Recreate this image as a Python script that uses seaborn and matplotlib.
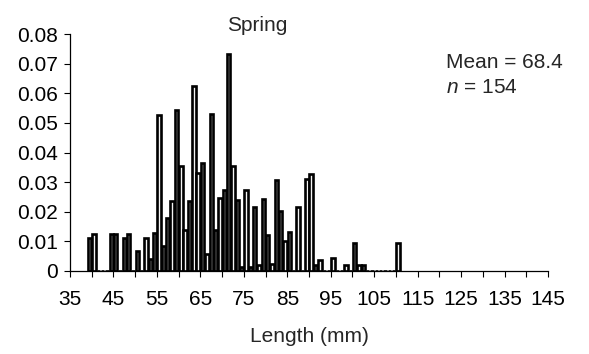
import numpy as np
import pandas as pd
import matplotlib
matplotlib.use("Agg")
import matplotlib.pyplot as plt
import seaborn as sns

# Data (relative frequency per 1-mm length class)
lengths = [39, 40, 44, 45, 47, 48, 50, 52, 53, 54, 55, 56, 57, 58, 59, 60, 61, 62,
           63, 64, 65, 66, 67, 68, 69, 70, 71, 72, 73, 74, 75, 76, 77, 78, 79, 80,
           81, 82, 83, 84, 85, 87, 89, 90, 91, 92, 95, 98, 100, 101, 102, 110]
freqs = [0.011, 0.0126, 0.0126, 0.0126, 0.011, 0.0126, 0.0066, 0.011, 0.004, 0.0128,
         0.0525, 0.0083, 0.018, 0.0235, 0.0543, 0.0355, 0.0137, 0.0235, 0.0624, 0.0332,
         0.0366, 0.0056, 0.053, 0.0137, 0.0248, 0.0273, 0.0731, 0.0355, 0.0241, 0.0014,
         0.0275, 0.0014, 0.0216, 0.0019, 0.0242, 0.0123, 0.0025, 0.0306, 0.0202, 0.0100,
         0.013, 0.0216, 0.031, 0.0329, 0.0019, 0.0038, 0.0044, 0.0019, 0.0095, 0.0019,
         0.0019, 0.0095]

x_min, x_max = 35, 145
xtick_major = list(range(35, 146, 5))
xtick_labels = [str(v) if (v - 35) % 10 == 0 else "" for v in xtick_major]
ytick_vals = [0, 0.01, 0.02, 0.03, 0.04, 0.05, 0.06, 0.07, 0.08]
ytick_labels = ["0", "0.01", "0.02", "0.03", "0.04", "0.05", "0.06", "0.07", "0.08"]

title = "Spring"
xlabel = "Length (mm)"
mean_text = "Mean = 68.4"
n_text = "$\\it{n}$ = 154"

df = pd.DataFrame({"length": lengths, "freq": freqs})

sns.set_style("white")
plt.rcParams["font.family"] = ["Liberation Sans", "DejaVu Sans"]
plt.rcParams["mathtext.fontset"] = "custom"
plt.rcParams["mathtext.it"] = "Liberation Sans:italic"
plt.rcParams["mathtext.rm"] = "Liberation Sans"

fig = plt.figure(figsize=(5.89, 3.54), dpi=100)
ax = fig.add_axes([70 / 589, 1 - 271 / 354, 478 / 589, 237 / 354])

sns.histplot(data=df, x="length", weights="freq", binwidth=1,
             binrange=(min(lengths), max(lengths) + 1),
             shrink=0.78, color="#f4f4f4", edgecolor="black", linewidth=1.9,
             alpha=1, ax=ax)

ax.set_xlim(x_min, x_max)
ax.set_ylim(0, 0.08)
ax.set_xticks(xtick_major)
ax.set_xticklabels(xtick_labels)
ax.set_yticks(ytick_vals)
ax.set_yticklabels(ytick_labels)
ax.tick_params(axis="both", direction="out", length=4, width=0.8, labelsize=15,
               colors="black", pad=5, bottom=True, left=True)
ax.tick_params(axis="x", pad=10)

for side in ["top", "right"]:
    ax.spines[side].set_visible(False)
for side in ["left", "bottom"]:
    ax.spines[side].set_color("black")
    ax.spines[side].set_linewidth(0.9)

ax.set_xlabel(xlabel, fontsize=15, labelpad=13)
ax.set_ylabel("")

ax.text(0.391, 1.035, title, transform=ax.transAxes, ha="center", va="center",
        fontsize=15)
ax.text(0.787, 0.88, mean_text, transform=ax.transAxes, ha="left", va="center",
        fontsize=15)
ax.text(0.787, 0.775, n_text, transform=ax.transAxes, ha="left", va="center",
        fontsize=15)

fig.savefig("out.png", dpi=100)
